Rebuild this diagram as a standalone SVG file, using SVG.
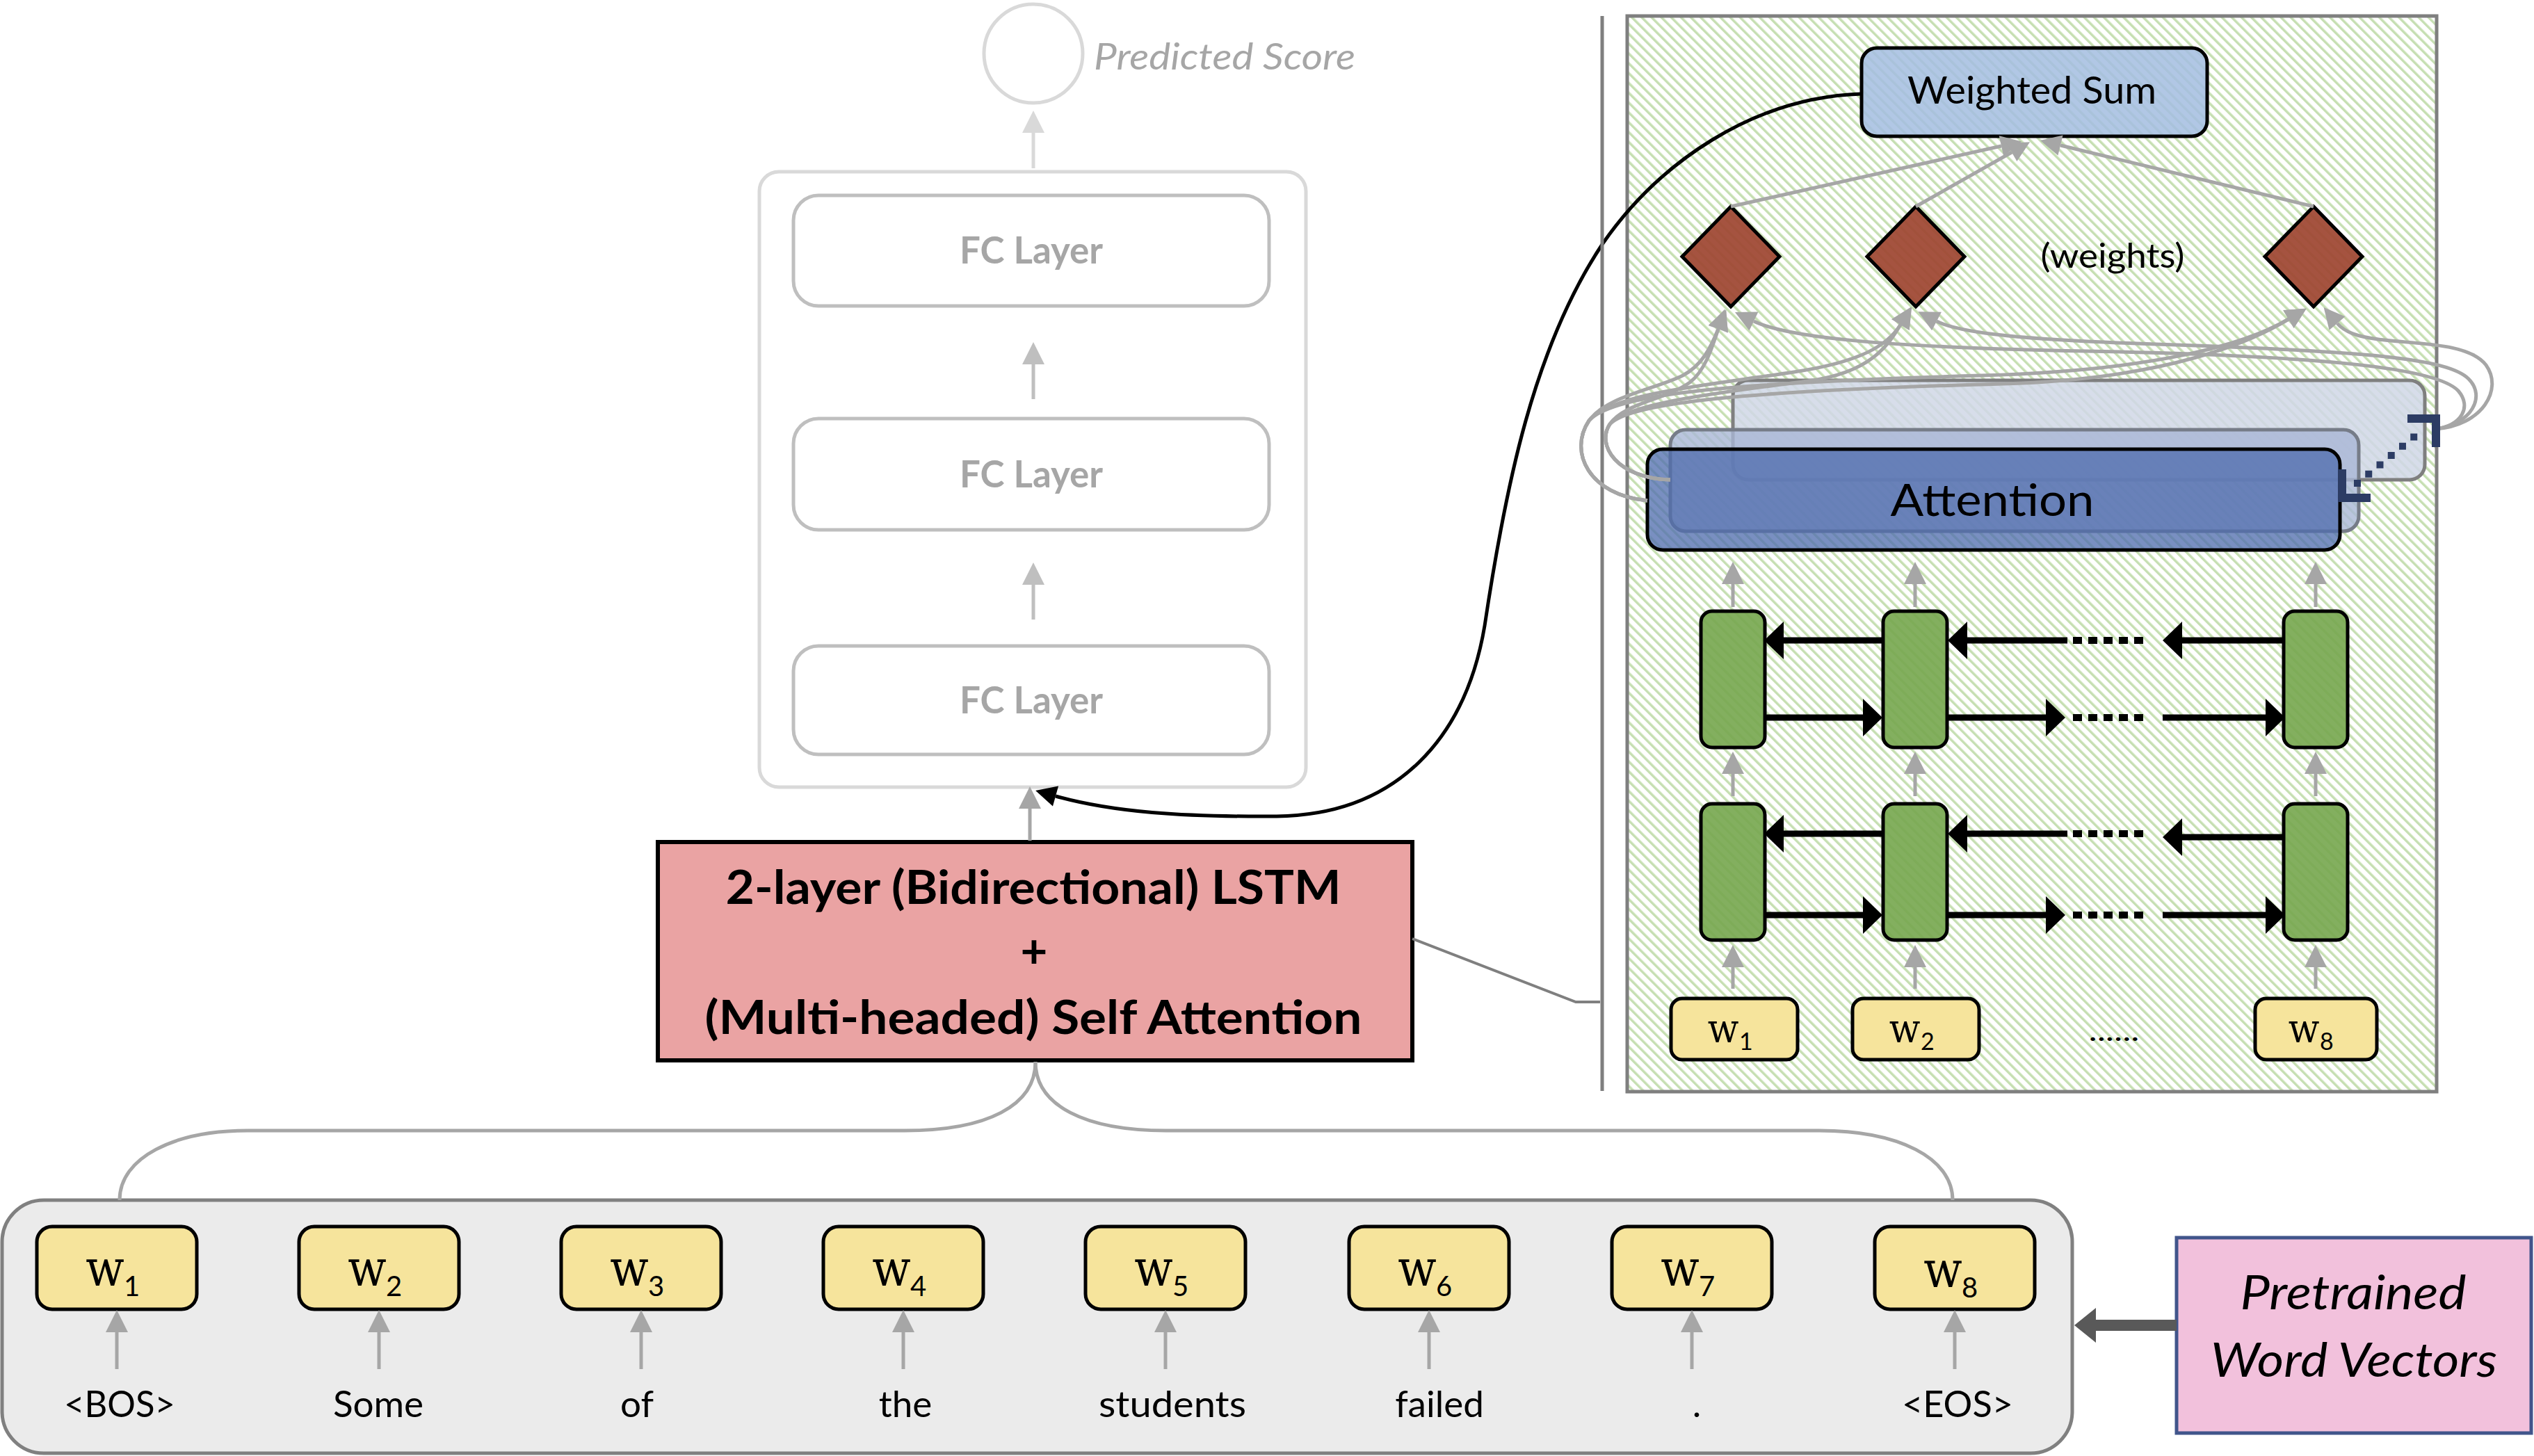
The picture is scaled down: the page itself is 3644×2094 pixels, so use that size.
<svg xmlns="http://www.w3.org/2000/svg" width="3644" height="2094" viewBox="0 0 3644 2094">
<defs>
<style>
.sans{font-family:Lato,"Open Sans","Liberation Sans",sans-serif}
.mono{font-family:"DejaVu Serif Condensed","DejaVu Serif","Liberation Serif",serif;font-stretch:condensed}
.fc{fill:#fff;stroke:#bfbfbf;stroke-width:5}
.fct{font-size:53px;font-weight:bold;fill:#a6a6a6;text-anchor:middle}
.wbox{fill:#f6e49c;stroke:#000;stroke-width:5}
.cell{fill:#76a64e;fill-opacity:0.9;stroke:#000;stroke-width:5}
.dia{fill:#9e4631;fill-opacity:0.93;stroke:#000;stroke-width:5}
.ga{stroke:#a6a6a6;stroke-width:5;fill:none}
.blk{stroke:#000;stroke-width:9;fill:none}
.word{font-size:53px;fill:#000;text-anchor:middle}
</style>
<pattern id="hatch" patternUnits="userSpaceOnUse" width="10" height="10" patternTransform="rotate(-45)">
<rect width="10" height="10" fill="#fff"/>
<rect width="3.5" height="10" fill="#c6dfb2"/>
</pattern>
<marker id="mA6" markerUnits="userSpaceOnUse" viewBox="-2 -17 36 34" markerWidth="36" markerHeight="34" refX="0" refY="0" orient="auto"><path d="M0,-16 L32,0 L0,16 z" fill="#a6a6a6"/></marker>
<marker id="mBF" markerUnits="userSpaceOnUse" viewBox="-2 -17 36 34" markerWidth="36" markerHeight="34" refX="0" refY="0" orient="auto"><path d="M0,-16 L32,0 L0,16 z" fill="#bfbfbf"/></marker>
<marker id="mD9" markerUnits="userSpaceOnUse" viewBox="-2 -17 36 34" markerWidth="36" markerHeight="34" refX="0" refY="0" orient="auto"><path d="M0,-16 L32,0 L0,16 z" fill="#d9d9d9"/></marker>
<marker id="mCur" markerUnits="userSpaceOnUse" viewBox="-2 -16 34 32" markerWidth="34" markerHeight="32" refX="0" refY="0" orient="auto"><path d="M0,-15 L30,0 L0,15 z" fill="#a6a6a6"/></marker>
<marker id="mBlk" markerUnits="userSpaceOnUse" viewBox="-2 -16 34 32" markerWidth="34" markerHeight="32" refX="0" refY="0" orient="auto"><path d="M0,-15 L30,0 L0,15 z" fill="#000"/></marker>
<marker id="mBig" markerUnits="userSpaceOnUse" viewBox="-2 -28 32 56" markerWidth="32" markerHeight="56" refX="0" refY="0" orient="auto"><path d="M0,-27 L28,0 L0,27 z" fill="#000"/></marker>
</defs>

<rect width="3644" height="2094" fill="#fff"/>

<!-- Predicted score -->
<g id="predicted-score">
<circle cx="1486" cy="77" r="71" fill="#fff" stroke="#d9d9d9" stroke-width="5"/>
<text class="sans" x="1573" y="100" font-size="52" font-style="italic" fill="#a6a6a6" textLength="376" lengthAdjust="spacingAndGlyphs">Predicted Score</text>
</g>

<!-- FC container -->
<g id="fc-container">
<rect x="1092" y="247" width="786" height="885" rx="28" fill="#fff" stroke="#d9d9d9" stroke-width="5"/>
</g>
<g id="fc1">
<rect class="fc" x="1141" y="281" width="684" height="159" rx="36"/>
<text class="sans fct" x="1483" y="379" textLength="206" lengthAdjust="spacingAndGlyphs">FC Layer</text>
</g>
<g id="fc2">
<rect class="fc" x="1141" y="602" width="684" height="160" rx="36"/>
<text class="sans fct" x="1483" y="701" textLength="206" lengthAdjust="spacingAndGlyphs">FC Layer</text>
</g>
<g id="fc3">
<rect class="fc" x="1141" y="929" width="684" height="156" rx="36"/>
<text class="sans fct" x="1483" y="1026" textLength="206" lengthAdjust="spacingAndGlyphs">FC Layer</text>
</g>

<!-- LSTM box -->
<g id="lstm-attention">
<rect x="946" y="1211" width="1085" height="314" fill="#eaa3a3" stroke="#000" stroke-width="6"/>
<text class="sans" x="1486" y="1300" font-size="67" font-weight="bold" text-anchor="middle" textLength="885" lengthAdjust="spacingAndGlyphs">2-layer (Bidirectional) LSTM</text>
<text class="sans" x="1487" y="1392" font-size="67" font-weight="bold" text-anchor="middle">+</text>
<text class="sans" x="1486" y="1487" font-size="67" font-weight="bold" text-anchor="middle" textLength="945" lengthAdjust="spacingAndGlyphs">(Multi-headed) Self Attention</text>
</g>

<!-- right panel -->
<g id="detail-panel">
<rect x="2340" y="23" width="1164" height="1547" fill="url(#hatch)" stroke="#7f7f7f" stroke-width="5"/>
</g>

<g id="weighted-sum">
<rect x="2677" y="69" width="497" height="127" rx="22" fill="#a3bde0" fill-opacity="0.85" stroke="#000" stroke-width="5"/>
<text class="sans" x="2922" y="149" font-size="54" text-anchor="middle" textLength="358" lengthAdjust="spacingAndGlyphs">Weighted Sum</text>
</g>

<g id="weights">
<path class="dia" d="M2489,297 L2559,369 L2489,441 L2419,369 z"/>
<path class="dia" d="M2755,297 L2825,369 L2755,441 L2685,369 z"/>
<path class="dia" d="M3327,297 L3397,369 L3327,441 L3257,369 z"/>
<text class="sans" x="3038" y="385" font-size="48" text-anchor="middle" textLength="207" lengthAdjust="spacingAndGlyphs">(weights)</text>
</g>

<g id="attention">
<rect x="2492" y="547" width="995" height="143" rx="22" fill="#d0d7e6" fill-opacity="0.85" stroke="#7f7f7f" stroke-width="5"/>
<rect x="2402" y="618" width="990" height="146" rx="22" fill="#a9b6d6" fill-opacity="0.8" stroke="#767c88" stroke-width="5"/>
<rect x="2369" y="646" width="996" height="145" rx="22" fill="#4f6cae" fill-opacity="0.76" stroke="#000" stroke-width="5"/>
<text class="sans" x="2865" y="742" font-size="64" text-anchor="middle" textLength="293" lengthAdjust="spacingAndGlyphs">Attention</text>
</g>

<g id="lstm-cells">
<rect class="cell" x="2446" y="879" width="92" height="196" rx="16"/>
<rect class="cell" x="2708" y="879" width="92" height="196" rx="16"/>
<rect class="cell" x="3284" y="879" width="92" height="196" rx="16"/>
<rect class="cell" x="2446" y="1156" width="92" height="196" rx="16"/>
<rect class="cell" x="2708" y="1156" width="92" height="196" rx="16"/>
<rect class="cell" x="3284" y="1156" width="92" height="196" rx="16"/>
</g>

<g id="panel-words">
<rect class="wbox" x="2403" y="1436" width="182" height="88" rx="16"/>
<text class="mono" x="2478" y="1499" font-size="58" text-anchor="middle">w</text>
<text class="sans" x="2501" y="1510" font-size="34">1</text>
<rect class="wbox" x="2664" y="1436" width="182" height="88" rx="16"/>
<text class="mono" x="2739" y="1499" font-size="58" text-anchor="middle">w</text>
<text class="sans" x="2762" y="1510" font-size="34">2</text>
<rect class="wbox" x="3243" y="1436" width="175" height="88" rx="16"/>
<text class="mono" x="3313" y="1499" font-size="58" text-anchor="middle">w</text>
<text class="sans" x="3336" y="1510" font-size="34">8</text>
<text class="sans" x="3040" y="1497" font-size="40" text-anchor="middle" textLength="73" lengthAdjust="spacingAndGlyphs">......</text>
</g>

<!-- bottom input row -->
<g id="input-panel">
<rect x="3" y="1726" width="2977" height="364" rx="60" fill="#ebebeb" stroke="#808080" stroke-width="5"/>
</g>
<g id="input-words">
<rect class="wbox" x="53" y="1764" width="230" height="119" rx="22"/>
<text class="mono" x="151" y="1849" font-size="72" text-anchor="middle">w</text><text class="sans" x="178" y="1864" font-size="40">1</text>
<rect class="wbox" x="430" y="1764" width="230" height="119" rx="22"/>
<text class="mono" x="528" y="1849" font-size="72" text-anchor="middle">w</text><text class="sans" x="555" y="1864" font-size="40">2</text>
<rect class="wbox" x="807" y="1764" width="230" height="119" rx="22"/>
<text class="mono" x="905" y="1849" font-size="72" text-anchor="middle">w</text><text class="sans" x="932" y="1864" font-size="40">3</text>
<rect class="wbox" x="1184" y="1764" width="230" height="119" rx="22"/>
<text class="mono" x="1282" y="1849" font-size="72" text-anchor="middle">w</text><text class="sans" x="1309" y="1864" font-size="40">4</text>
<rect class="wbox" x="1561" y="1764" width="230" height="119" rx="22"/>
<text class="mono" x="1659" y="1849" font-size="72" text-anchor="middle">w</text><text class="sans" x="1686" y="1864" font-size="40">5</text>
<rect class="wbox" x="1940" y="1764" width="230" height="119" rx="22"/>
<text class="mono" x="2038" y="1849" font-size="72" text-anchor="middle">w</text><text class="sans" x="2065" y="1864" font-size="40">6</text>
<rect class="wbox" x="2318" y="1764" width="230" height="119" rx="22"/>
<text class="mono" x="2416" y="1849" font-size="72" text-anchor="middle">w</text><text class="sans" x="2443" y="1864" font-size="40">7</text>
<rect class="wbox" x="2696" y="1764" width="230" height="119" rx="22"/>
<text class="mono" x="2794" y="1851" font-size="72" text-anchor="middle">w</text><text class="sans" x="2821" y="1866" font-size="40">8</text>
</g>
<g id="input-tokens">
<text class="sans word" x="172" y="2038" textLength="160" lengthAdjust="spacingAndGlyphs">&lt;BOS&gt;</text>
<text class="sans word" x="544" y="2038">Some</text>
<text class="sans word" x="916" y="2038">of</text>
<text class="sans word" x="1302" y="2038">the</text>
<text class="sans word" x="1686" y="2038" textLength="212" lengthAdjust="spacingAndGlyphs">students</text>
<text class="sans word" x="2070" y="2038">failed</text>
<text class="sans word" x="2440" y="2038">.</text>
<text class="sans word" x="2815" y="2038" textLength="160" lengthAdjust="spacingAndGlyphs">&lt;EOS&gt;</text>
</g>

<g id="pretrained-vectors">
<rect x="3130" y="1780" width="510" height="281" fill="#f2c1dc" stroke="#41558b" stroke-width="5"/>
<text class="sans" x="3384" y="1883" font-size="68" font-style="italic" text-anchor="middle" textLength="325" lengthAdjust="spacingAndGlyphs">Pretrained</text>
<text class="sans" x="3385" y="1980" font-size="68" font-style="italic" text-anchor="middle" textLength="412" lengthAdjust="spacingAndGlyphs">Word Vectors</text>
</g>

<!-- connectors -->
<g id="connectors">
<!-- FC stack -->
<line x1="1486" y1="242" x2="1486" y2="191" stroke="#d9d9d9" stroke-width="5" marker-end="url(#mD9)"/>
<line x1="1486" y1="574" x2="1486" y2="524" stroke="#bfbfbf" stroke-width="5" marker-end="url(#mBF)"/>
<line x1="1486" y1="891" x2="1486" y2="841" stroke="#bfbfbf" stroke-width="5" marker-end="url(#mBF)"/>
<line x1="1481" y1="1209" x2="1481" y2="1163" stroke="#a6a6a6" stroke-width="5" marker-end="url(#mA6)"/>
<!-- weighted sum output to FC -->
<path d="M2677,135 C2520,140 2385,235 2305,350 C2205,500 2165,700 2135,900 C2108,1060 2010,1172 1836,1174 C1700,1175 1600,1168 1518,1145" fill="none" stroke="#000" stroke-width="5" marker-end="url(#mBlk)"/>
<!-- LSTM box to detail -->
<polyline points="2031,1350 2266,1441 2301,1441" fill="none" stroke="#7f7f7f" stroke-width="4"/>
<line x1="2304" y1="23" x2="2304" y2="1569" stroke="#7f7f7f" stroke-width="5"/>
<!-- brace -->
<path class="ga" d="M1489,1527 C1489,1590 1420,1626 1301,1626 L356,1626 C250,1626 172,1665 172,1726"/>
<path class="ga" d="M1489,1527 C1489,1590 1560,1626 1677,1626 L2616,1626 C2730,1626 2808,1665 2808,1726"/>
<!-- token arrows -->
<g stroke="#a6a6a6" stroke-width="5" marker-end="url(#mA6)">
<line x1="168" y1="1969" x2="168" y2="1916"/>
<line x1="545" y1="1969" x2="545" y2="1916"/>
<line x1="922" y1="1969" x2="922" y2="1916"/>
<line x1="1299" y1="1969" x2="1299" y2="1916"/>
<line x1="1676" y1="1969" x2="1676" y2="1916"/>
<line x1="2055" y1="1969" x2="2055" y2="1916"/>
<line x1="2433" y1="1969" x2="2433" y2="1916"/>
<line x1="2811" y1="1969" x2="2811" y2="1916"/>
</g>
<!-- pretrained arrow -->
<line x1="3130" y1="1906" x2="3012" y2="1906" stroke="#595959" stroke-width="16"/>
<polygon points="3014,1881 2983,1906 3014,1931" fill="#595959"/>
<!-- weights to weighted sum -->
<g stroke="#a6a6a6" stroke-width="5" marker-end="url(#mCur)">
<line x1="2489" y1="297" x2="2878" y2="210"/>
<line x1="2755" y1="297" x2="2893" y2="219"/>
<line x1="3327" y1="297" x2="2963" y2="209"/>
</g>
<!-- attention to weights -->
<g class="ga" marker-end="url(#mCur)">
<path d="M2369,720 C2285,712 2255,650 2285,605 C2310,570 2380,560 2420,540 C2448,525 2460,500 2471,473"/>
<path d="M2369,720 C2285,712 2255,650 2285,605 C2320,565 2450,555 2580,535 C2680,520 2715,495 2733,467"/>
<path d="M2369,720 C2285,712 2255,650 2285,605 C2320,565 2500,550 2850,540 C3100,533 3230,495 3291,459"/>
<path d="M2402,690 C2325,688 2295,640 2315,610 C2335,580 2395,575 2430,550 C2452,533 2462,500 2471,473"/>
<path d="M2402,690 C2325,688 2295,640 2315,610 C2340,580 2470,565 2600,548 C2690,536 2715,497 2733,467"/>
<path d="M2402,690 C2325,688 2295,640 2315,610 C2345,578 2520,562 2880,552 C3120,545 3240,490 3291,459"/>
<path d="M3502,617 C3570,612 3600,560 3575,525 C3550,492 3470,495 3420,488 C3390,484 3372,478 3361,465"/>
<path d="M3502,617 C3555,610 3575,570 3550,545 C3520,515 3400,505 3100,495 C2920,489 2820,480 2785,462"/>
<path d="M3502,617 C3540,612 3555,585 3535,562 C3505,530 3350,512 3000,505 C2700,499 2570,485 2522,462"/>
</g>
<!-- multi-head dotted arrow -->
<line x1="3390" y1="695" x2="3484" y2="618" stroke="#2c3c64" stroke-width="10" stroke-dasharray="0 21" stroke-linecap="square"/>
<polyline points="3462,602 3503,602 3503,643" fill="none" stroke="#2c3c64" stroke-width="12"/>
<polyline points="3368,675 3368,716 3409,716" fill="none" stroke="#2c3c64" stroke-width="12"/>
<!-- panel vertical arrows -->
<g stroke="#a6a6a6" stroke-width="5" marker-end="url(#mA6)">
<line x1="2492" y1="1422" x2="2492" y2="1391"/>
<line x1="2754" y1="1422" x2="2754" y2="1391"/>
<line x1="3330" y1="1422" x2="3330" y2="1391"/>
<line x1="2492" y1="1145" x2="2492" y2="1113"/>
<line x1="2754" y1="1145" x2="2754" y2="1113"/>
<line x1="3330" y1="1145" x2="3330" y2="1113"/>
<line x1="2492" y1="873" x2="2492" y2="840"/>
<line x1="2754" y1="873" x2="2754" y2="840"/>
<line x1="3330" y1="873" x2="3330" y2="840"/>
</g>
<!-- LSTM recurrent arrows -->
<g class="blk" marker-end="url(#mBig)">
<line x1="2707" y1="921" x2="2565" y2="921"/>
<line x1="2973" y1="921" x2="2829" y2="921"/>
<line x1="3286" y1="921" x2="3138" y2="921"/>
<line x1="2537" y1="1032" x2="2679" y2="1032"/>
<line x1="2801" y1="1032" x2="2942" y2="1032"/>
<line x1="3110" y1="1032" x2="3258" y2="1032"/>
<line x1="2707" y1="1199" x2="2565" y2="1199"/>
<line x1="2973" y1="1199" x2="2829" y2="1199"/>
<line x1="3286" y1="1204" x2="3138" y2="1204"/>
<line x1="2537" y1="1316" x2="2679" y2="1316"/>
<line x1="2801" y1="1316" x2="2942" y2="1316"/>
<line x1="3110" y1="1316" x2="3258" y2="1316"/>
</g>
<g stroke="#000" stroke-width="10" stroke-dasharray="13 9">
<line x1="2981" y1="921" x2="3088" y2="921"/>
<line x1="2981" y1="1032" x2="3088" y2="1032"/>
<line x1="2981" y1="1199" x2="3088" y2="1199"/>
<line x1="2981" y1="1316" x2="3088" y2="1316"/>
</g>
</g>
</svg>
